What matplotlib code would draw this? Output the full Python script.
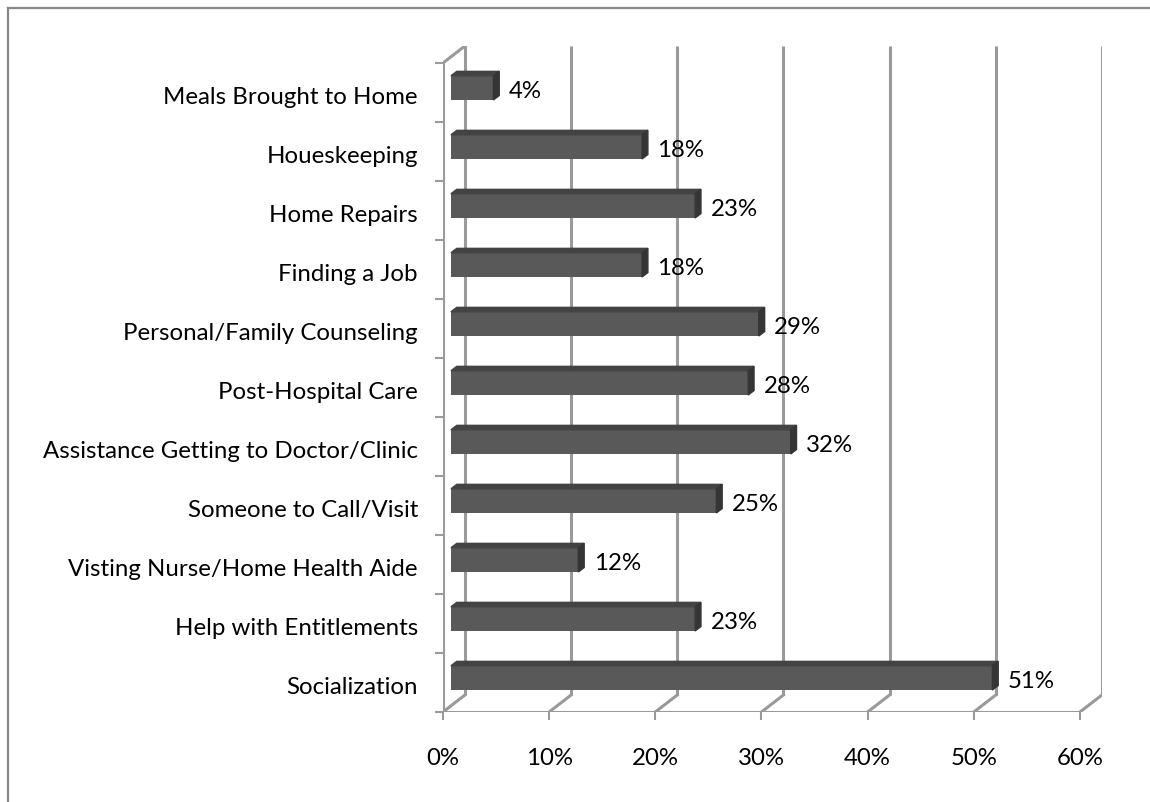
import matplotlib
matplotlib.use("Agg")
from matplotlib import pyplot as plt
from matplotlib.patches import Polygon
from matplotlib.lines import Line2D

plt.rcParams['font.family'] = ['Lato', 'DejaVu Sans']

# categories listed bottom to top
services = ["Socialization", "Help with Entitlements", "Visting Nurse/Home Health Aide",
            "Someone to Call/Visit", "Assistance Getting to Doctor/Clinic", "Post-Hospital Care",
            "Personal/Family Counseling", "Finding a Job", "Home Repairs", "Houeskeeping",
            "Meals Brought to Home"]
percent = [51, 23, 12, 25, 32, 28, 29, 18, 23, 18, 4]
x_ticks = [0, 10, 20, 30, 40, 50, 60]
x_tick_labels = ["0%", "10%", "20%", "30%", "40%", "50%", "60%"]

# fake 3d: depth offset of the back wall, in data units
DX = 2.07
DY = 0.288
# bar box: front face offset and depth
BX0, BY0 = 0.75, 0.078
BDX, BDY = 0.55, 0.075
BH = 0.41
FS = 17.3
grid_c = "#9a9a9a"
front_c, top_c, side_c = "#595959", "#434343", "#353535"

fig = plt.figure(figsize=(11.5, 8.03), dpi=100)
ax = fig.add_axes([0.3852, 0.1121, 0.5730, 0.8294])
n = len(services)
ax.set_xlim(0, 60 + DX)
ax.set_ylim(-0.5, n - 0.5 + DY)
for s in ax.spines.values():
    s.set_visible(False)

# back wall gridlines + floor diagonals
for t in x_ticks:
    ax.plot([t + DX, t + DX], [-0.5 + DY, n - 0.5 + DY], color=grid_c, lw=2.2, zorder=1,
            solid_capstyle="butt")
    ax.plot([t, t + DX], [-0.5, -0.5 + DY], color=grid_c, lw=2.2, zorder=1)
# left wall and floor edges
ax.plot([0, 0], [-0.5, n - 0.5], color=grid_c, lw=2.2, zorder=1)
ax.plot([0, DX], [n - 0.5, n - 0.5 + DY], color=grid_c, lw=2.2, zorder=1)
ax.plot([0, 60], [-0.5, -0.5], color=grid_c, lw=2.2, zorder=1)

# bars
ypos = list(range(n))
ax.barh([y + BY0 for y in ypos], percent, left=BX0, height=BH, color=front_c, zorder=3)
for y, v in zip(ypos, percent):
    yc = y + BY0
    yt, yb = yc + BH / 2, yc - BH / 2
    xe = BX0 + v
    ax.add_patch(Polygon([(BX0, yt), (xe, yt), (xe + BDX, yt + BDY), (BX0 + BDX, yt + BDY)],
                         closed=True, color=top_c, zorder=3))
    ax.add_patch(Polygon([(xe, yb), (xe, yt), (xe + BDX, yt + BDY), (xe + BDX, yb + BDY)],
                         closed=True, color=side_c, zorder=3))
    ax.text(xe + 1.45, y + 0.03, f"{v}%", ha="left", va="center", fontsize=FS, color="black")

# axes ticks
ax.set_xticks(x_ticks)
ax.set_xticklabels(x_tick_labels, fontsize=FS)
ax.tick_params(axis="x", length=6, width=1.5, color=grid_c, pad=19)
ax.set_yticks([y - 0.03 for y in ypos])
ax.set_yticklabels(services, fontsize=FS)
ax.set_yticks([y - 0.5 for y in range(n + 1)], minor=True)
ax.tick_params(axis="y", which="major", length=0, pad=18)
ax.tick_params(axis="y", which="minor", length=6, width=1.5, color=grid_c)

# outer frame
fig.add_artist(Line2D([8 / 1150, 8 / 1150], [0, 1 - 9 / 803], color="#888888", lw=1.6))
fig.add_artist(Line2D([8 / 1150, 1], [1 - 9 / 803, 1 - 9 / 803], color="#888888", lw=1.6))

fig.savefig("out.png", dpi=100)
